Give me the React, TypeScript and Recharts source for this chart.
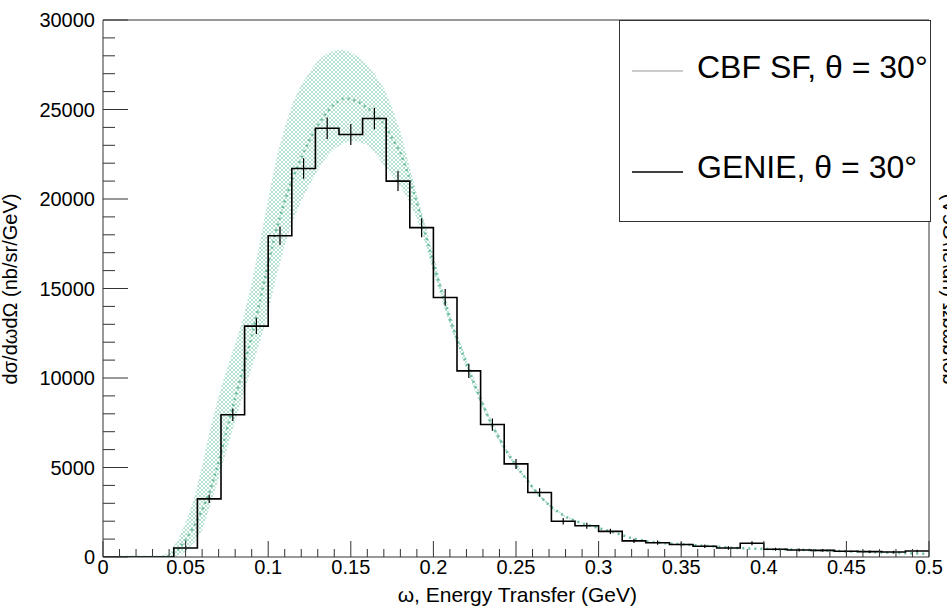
import React from 'react';
import { ComposedChart, Line, Area, Scatter, ErrorBar, XAxis, YAxis, ReferenceArea, Legend } from 'recharts';

// GENIE histogram: 35 bins between 0 and 0.5 GeV
const BIN_WIDTH = 0.5 / 35;
const genieCounts = [
  0, 0, 0, 500, 3250, 7950, 12900, 17950, 21700, 23950, 23600, 24500, 21000, 18400, 14500, 10400, 7400, 5200,
  3600, 2000, 1750, 1430, 900, 800, 700, 600, 500, 770, 430, 390, 370, 320, 300, 280, 335,
];
const genieErrors = [
  0, 0, 0, 110, 230, 350, 440, 520, 570, 600, 590, 600, 560, 530, 470, 400, 340, 280,
  240, 180, 170, 150, 120, 115, 110, 100, 95, 115, 85, 80, 80, 75, 70, 70, 75,
];

// CBF SF curve
const omegaGrid = [
  0.01, 0.02, 0.03, 0.035, 0.04, 0.045, 0.05, 0.055, 0.06, 0.065, 0.07, 0.075, 0.08, 0.085, 0.09, 0.095,
  0.1, 0.105, 0.11, 0.115, 0.12, 0.125, 0.13, 0.135, 0.14, 0.145, 0.15, 0.155, 0.16, 0.165, 0.17, 0.175,
  0.18, 0.185, 0.19, 0.195, 0.2, 0.205, 0.21, 0.215, 0.22, 0.225, 0.23, 0.235, 0.24, 0.245, 0.25, 0.255,
  0.26, 0.265, 0.27, 0.275, 0.28, 0.285, 0.29, 0.295, 0.3, 0.31, 0.32, 0.33, 0.34, 0.35, 0.36, 0.37,
  0.38, 0.39, 0.4, 0.41, 0.42, 0.43, 0.44, 0.45, 0.46, 0.47, 0.48, 0.49, 0.5,
];
const cbfCentral = [
  0, 0, 0, 0, 50, 350, 950, 1700, 2600, 3750, 5300, 7100, 8900, 10600, 12300, 14300,
  16400, 18300, 19900, 21200, 22300, 23300, 24100, 24800, 25300, 25600, 25600, 25400, 25100, 24700, 24200, 23400,
  22600, 21300, 19800, 18100, 16400, 14800, 13300, 12000, 10800, 9600, 8500, 7450, 6600, 5800, 5100, 4500,
  3900, 3350, 2900, 2550, 2250, 2050, 1880, 1750, 1620, 1350, 1050, 860, 770, 710, 650, 590,
  520, 480, 450, 430, 410, 380, 350, 320, 290, 260, 230, 200, 170,
];
// uncertainty band, omega 0.035 .. 0.3
const bandOmega = omegaGrid.slice(3, 57);
const cbfUpper = [
  0, 250, 900, 1900, 3200, 5100, 7200, 9000, 10500, 11900, 13400, 15300, 17600,
  20000, 22300, 24000, 25400, 26400, 27100, 27700, 28100, 28300, 28350, 28200, 27900, 27500, 26900, 26200, 25100,
  23800, 22000, 20300, 18600, 16900, 15200, 13700, 12300, 11100, 9900, 8750, 7650, 6800, 5950, 5250, 4600,
  4000, 3450, 2980, 2620, 2300, 2100, 1920, 1780, 1650,
];
const cbfLower = [
  0, 0, 50, 300, 800, 1500, 2900, 4400, 6000, 7600, 9100, 10600, 12000,
  13700, 15700, 17400, 18800, 19900, 20800, 21600, 22300, 22800, 23100, 23250, 23200, 23000, 22500, 21900, 21300,
  20700, 19900, 18900, 17500, 15900, 14400, 12900, 11700, 10500, 9300, 8250, 7250, 6400, 5650, 4950, 4400,
  3800, 3250, 2820, 2480, 2200, 2000, 1840, 1720, 1590,
];

const xTicks = Array.from({ length: 51 }, (_, i) => i / 100);
const yTicks = Array.from({ length: 31 }, (_, i) => i * 1000);

const histData = [
  ...genieCounts.map((v, i) => ({ x: i * BIN_WIDTH, y: v })),
  { x: 0.5, y: genieCounts[genieCounts.length - 1] },
];
const errData = genieCounts
  .map((v, i) => ({ x: (i + 0.5) * BIN_WIDTH, y: v, err: genieErrors[i] }))
  .filter((d) => d.y > 0);
const centralData = omegaGrid.map((x, i) => ({ x, c: cbfCentral[i] }));
const bandData = bandOmega.map((x, i) => ({ x, band: [cbfLower[i], cbfUpper[i]] }));

const FONT = '"Liberation Sans", Arial, Helvetica, sans-serif';
const AXIS_COLOR = '#333';

const fmt = (v: number) => String(+v.toFixed(2));

const XTick = (props: any) => {
  const { x, y, payload } = props;
  const v = payload.value;
  const major = Math.round(v * 100) % 5 === 0;
  return (
    <g>
      <line x1={x} x2={x} y1={y} y2={y - (major ? 16 : 8)} stroke={AXIS_COLOR} />
      {major && (
        <text x={x} y={y + 17} textAnchor="middle" fontSize={20} fill="#000" fontFamily={FONT}>
          {fmt(v)}
        </text>
      )}
    </g>
  );
};

const YTick = (props: any) => {
  const { x, y, payload } = props;
  const major = payload.value % 5000 === 0;
  return (
    <g>
      <line x1={x} x2={x + (major ? 25 : 12)} y1={y} y2={y} stroke={AXIS_COLOR} />
      {major && (
        <text x={x - 8} y={y} dy="0.36em" textAnchor="end" fontSize={20} fill="#000" fontFamily={FONT}>
          {payload.value}
        </text>
      )}
    </g>
  );
};

const LegendBox = () => (
  <svg width={312} height={202} style={{ overflow: 'visible', display: 'block' }}>
    <rect x={0.5} y={0.5} width={311} height={201} fill="#fff" stroke={AXIS_COLOR} />
    <line x1={13} x2={64} y1={51} y2={51} stroke="#999" />
    <text x={78} y={58} fontSize={32} fill="#000" fontFamily={FONT}>CBF SF, θ = 30°</text>
    <line x1={13} x2={64} y1={152} y2={152} stroke="#000" strokeWidth={1.5} />
    <text x={78} y={158} fontSize={32} fill="#000" fontFamily={FONT}>GENIE, θ = 30°</text>
  </svg>
);

export default function App() {
  return (
    <div style={{ position: 'absolute', left: 0, top: 0, fontFamily: FONT, background: '#fff' }}>
      <ComposedChart width={947} height={608} margin={{ top: 20, right: 18, bottom: 50, left: 102 }}>
        <defs>
          <pattern id="hatch" width="4" height="4" patternUnits="userSpaceOnUse">
            <path d="M0,0 L4,4 M4,0 L0,4" stroke="#96d3bc" strokeWidth={0.7} />
          </pattern>
        </defs>
        <XAxis
          dataKey="x"
          type="number"
          domain={[0, 0.5]}
          ticks={xTicks}
          interval={0}
          height={1}
          tickSize={0}
          tickMargin={0}
          tickLine={false}
          axisLine={false}
          tick={<XTick />}
          allowDataOverflow
        />
        <YAxis
          type="number"
          domain={[0, 30000]}
          ticks={yTicks}
          interval={0}
          width={1}
          tickSize={0}
          tickMargin={0}
          tickLine={false}
          axisLine={false}
          tick={<YTick />}
          allowDataOverflow
        />
        <Area
          data={bandData}
          dataKey="band"
          type="linear"
          stroke="none"
          fill="url(#hatch)"
          fillOpacity={1}
          isAnimationActive={false}
        />
        <Line
          data={centralData}
          dataKey="c"
          type="linear"
          stroke="#6cbd9d"
          strokeWidth={2.5}
          strokeDasharray="2 4"
          dot={false}
          isAnimationActive={false}
        />
        <Line
          data={histData}
          dataKey="y"
          type="stepAfter"
          stroke="#000"
          strokeWidth={1.6}
          dot={false}
          isAnimationActive={false}
        />
        <Scatter data={errData} dataKey="y" shape={() => <g />} isAnimationActive={false}>
          <ErrorBar dataKey="err" direction="y" width={0} stroke="#000" strokeWidth={1.2} />
        </Scatter>
        <ReferenceArea x1={0} x2={0.5} y1={0} y2={30000} fill="none" stroke={AXIS_COLOR} strokeWidth={1} ifOverflow="visible" />
        <Legend
          layout="horizontal"
          verticalAlign="middle"
          align="center"
          content={LegendBox}
          wrapperStyle={{ position: 'absolute', left: 619, top: 20, width: 312, height: 202 }}
        />
        <text x={637} y={602} textAnchor="end" fontSize={21} fill="#000" fontFamily={FONT}>
          ω, Energy Transfer (GeV)
        </text>
        <text transform="translate(17,289) rotate(-90)" textAnchor="middle" fontSize={20} fill="#000" fontFamily={FONT}>
          dσ/dωdΩ (nb/sr/GeV)
        </text>
        <text transform="translate(943,289) scale(-1,1) rotate(-90)" textAnchor="middle" fontSize={20} fill="#000" fontFamily={FONT}>
          dσ/dωdΩ (nb/sr/GeV)
        </text>
      </ComposedChart>
    </div>
  );
}
